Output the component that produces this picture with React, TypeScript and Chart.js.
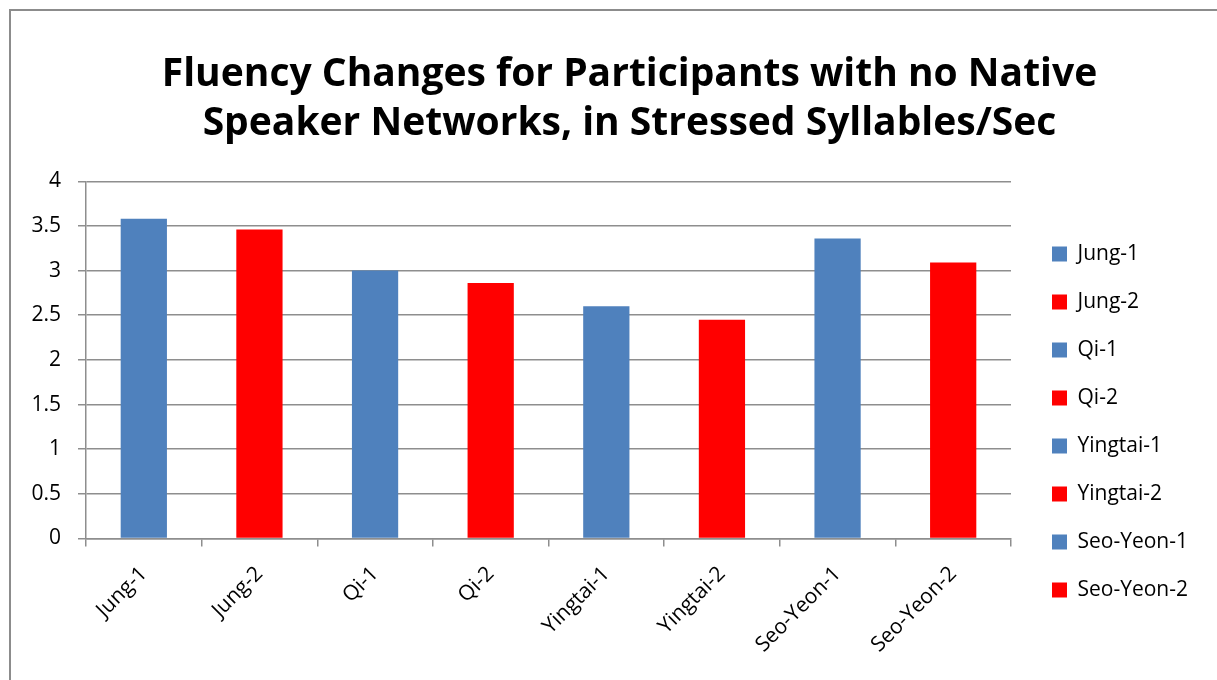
import React, { useEffect, useRef } from "react";
import { Chart, registerables } from "chart.js";

Chart.register(...registerables);

const categories = ["Jung-1", "Jung-2", "Qi-1", "Qi-2", "Yingtai-1", "Yingtai-2", "Seo-Yeon-1", "Seo-Yeon-2"];
const fluency = [3.58, 3.46, 3.0, 2.86, 2.6, 2.45, 3.36, 3.09];
const barColors = ["#4f81bd", "#ff0000", "#4f81bd", "#ff0000", "#4f81bd", "#ff0000", "#4f81bd", "#ff0000"];
const titleLines = ["Fluency Changes for Participants with no Native", "Speaker Networks, in Stressed Syllables/Sec"];
const yMin = 0;
const yMax = 4;
const yStep = 0.5;

const GRID = "#8e8e8e";
const FONT = "'Open Sans'";

const layoutTweak = {
  id: "layoutTweak",
  beforeLayout(chart: any) {
    const lg = chart.legend;
    if (lg && !lg._wrapped) {
      const orig = lg.fit.bind(lg);
      lg.fit = function () {
        orig();
        this.width = 206;
      };
      lg._wrapped = true;
    }
  },
  afterLayout(chart: any) {
    const lg = chart.legend;
    if (lg) {
      const dx = 14;
      const dy = 82;
      lg.left += dx;
      lg.right += dx;
      lg.top += dy;
      lg.bottom += dy;
    }
    const t = chart.titleBlock;
    if (t) {
      t.left += 21;
      t.right += 21;
    }
  },
};

export default function App() {
  const ref = useRef<HTMLCanvasElement | null>(null);

  useEffect(() => {
    if (!ref.current) return;
    Chart.defaults.font.family = FONT;
    Chart.defaults.color = "#000";
    const chart = new Chart(ref.current, {
      type: "bar",
      data: {
        labels: categories,
        datasets: [
          {
            label: "Fluency",
            data: fluency,
            backgroundColor: barColors,
            borderWidth: 0,
            barPercentage: 0.4,
            categoryPercentage: 1,
          },
        ],
      },
      plugins: [layoutTweak],
      options: {
        animation: false,
        responsive: false,
        devicePixelRatio: 1,
        layout: { padding: { left: 0, right: 0, top: 0, bottom: 0 } },
        plugins: {
          title: {
            display: true,
            text: titleLines,
            color: "#000",
            font: { family: FONT, size: 39, weight: "bold", lineHeight: 1.26 },
            padding: { top: 50, bottom: 33 },
          },
          tooltip: { enabled: false },
          legend: {
            position: "right",
            labels: {
              boxWidth: 15,
              boxHeight: 15,
              padding: 27,
              color: "#000",
              font: { family: FONT, size: 21 },
              generateLabels: (chart: any) => {
                const ds = chart.data.datasets[0];
                return chart.data.labels.map((l: string, i: number) => ({
                  text: l,
                  fillStyle: ds.backgroundColor[i],
                  strokeStyle: ds.backgroundColor[i],
                  lineWidth: 0,
                  hidden: false,
                  index: i,
                  datasetIndex: 0,
                }));
              },
            },
          },
        },
        scales: {
          x: {
            grid: {
              display: true,
              drawOnChartArea: false,
              drawTicks: true,
              tickLength: 8,
              color: GRID,
              lineWidth: 1.5,
              offset: true,
            },
            border: { display: true, color: GRID, width: 1.5 },
            ticks: {
              color: "#000",
              font: { family: FONT, size: 21 },
              minRotation: 45,
              maxRotation: 45,
              autoSkip: false,
              padding: 15,
            },
            afterFit: (scale: any) => {
              scale.height = 141.5;
            },
          },
          y: {
            min: yMin,
            max: yMax,
            ticks: {
              stepSize: yStep,
              color: "#000",
              font: { family: FONT, size: 21 },
              padding: 17,
              callback: (v: any) => String(v),
            },
            grid: {
              color: GRID,
              lineWidth: 1.5,
              tickLength: 8,
              drawTicks: true,
            },
            border: { display: true, color: GRID, width: 1.5 },
            afterFit: (scale: any) => {
              scale.width = 86;
            },
          },
        },
      },
    });
    return () => chart.destroy();
  }, []);

  return (
    <div>
      <canvas
        ref={ref}
        width={1217}
        height={680}
        style={{ position: "fixed", left: 0, top: 0, width: 1217, height: 680, display: "block" }}
      />
      <div
        style={{
          position: "fixed",
          left: 9,
          top: 9,
          width: 1400,
          height: 1000,
          border: "2px solid #8c8c8c",
          pointerEvents: "none",
        }}
      />
    </div>
  );
}
